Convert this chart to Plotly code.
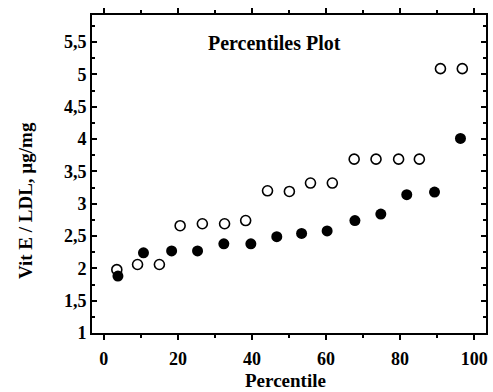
import plotly.graph_objects as go

open_x = [3.5, 9.1, 15.0, 20.6, 26.6, 32.6, 38.3, 44.2, 50.1, 55.8, 61.7, 67.6, 73.5, 79.6, 85.2, 90.9, 96.8]
open_y = [1.98, 2.06, 2.06, 2.66, 2.69, 2.69, 2.74, 3.20, 3.19, 3.32, 3.32, 3.69, 3.69, 3.69, 3.69, 5.09, 5.09]

filled_x = [3.8, 10.7, 18.3, 25.3, 32.4, 39.7, 46.7, 53.4, 60.3, 67.8, 74.8, 81.8, 89.3, 96.3]
filled_y = [1.88, 2.24, 2.27, 2.27, 2.38, 2.38, 2.49, 2.54, 2.58, 2.74, 2.84, 3.14, 3.18, 4.01]

y_tickvals = [1, 1.5, 2, 2.5, 3, 3.5, 4, 4.5, 5, 5.5]
y_ticktext = ["1", "1,5", "2", "2,5", "3", "3,5", "4", "4,5", "5", "5,5"]
x_tickvals = [0, 20, 40, 60, 80, 100]
x_ticktext = ["0", "20", "40", "60", "80", "100"]

FONT = "Liberation Serif"
TICKFONT = dict(family=FONT, size=18, color="black", weight="bold")
TITLEFONT = dict(family=FONT, size=19, color="black", weight="bold")

fig = go.Figure()
fig.add_trace(go.Scatter(
    x=open_x, y=open_y, mode="markers",
    marker=dict(symbol="circle-open", size=10, color="black", line=dict(width=1.6, color="black")),
    showlegend=False, cliponaxis=False))
fig.add_trace(go.Scatter(
    x=filled_x, y=filled_y, mode="markers",
    marker=dict(symbol="circle", size=11, color="black"),
    showlegend=False, cliponaxis=False))

fig.update_layout(
    width=493, height=392,
    margin=dict(l=92, r=5, t=15, b=59),
    paper_bgcolor="white", plot_bgcolor="white",
    font=dict(family=FONT, size=15, color="black"),
    annotations=[
        dict(text="Percentiles Plot", xref="paper", yref="paper",
             x=0.462, y=0.912, xanchor="center", yanchor="middle", showarrow=False,
             font=dict(family=FONT, size=20, color="black", weight="bold")),
        dict(text="Vit E / LDL, µg/mg", xref="paper", yref="paper",
             x=0, y=0.415, xanchor="center", yanchor="middle", xshift=-67,
             textangle=-90, showarrow=False, font=TITLEFONT),
        dict(text="Percentile", xref="paper", yref="paper",
             x=0.492, y=0, xanchor="center", yanchor="middle", yshift=-47,
             showarrow=False, font=TITLEFONT),
    ],
)
fig.update_xaxes(
    range=[-3.2, 103.2], tickvals=x_tickvals, ticktext=x_ticktext,
    showgrid=False, zeroline=False, showline=True, linecolor="black", linewidth=2,
    mirror="ticks", ticks="outside", ticklen=5, tickwidth=1.5, tickcolor="black",
    minor=dict(dtick=10, tick0=0, ticks="outside", ticklen=3, tickcolor="black"),
    tickfont=TICKFONT, ticklabelstandoff=3,
)
fig.update_yaxes(
    range=[1, 5.92], tickvals=y_tickvals, ticktext=y_ticktext,
    showgrid=False, zeroline=False, showline=True, linecolor="black", linewidth=2,
    mirror="ticks", ticks="inside", ticklen=5, tickwidth=1.5, tickcolor="black",
    minor=dict(dtick=0.25, tick0=1, ticks="inside", ticklen=3, tickcolor="black"),
    tickfont=TICKFONT,
)

fig.write_html(
    "out.html",
    config={"displayModeBar": False},
    post_script="document.body.style.margin='0';document.body.style.overflow='hidden';",
)
